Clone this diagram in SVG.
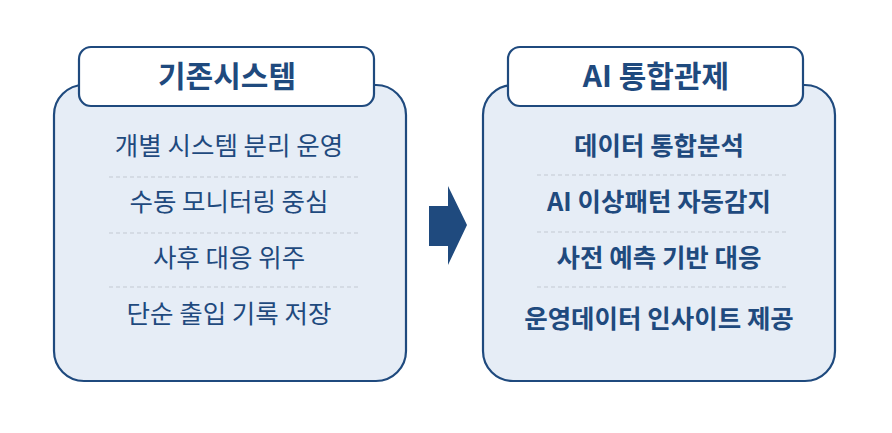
<svg xmlns="http://www.w3.org/2000/svg" width="892" height="433" viewBox="0 0 892 433">
<style>
.panel{fill:#e6edf6;stroke:#1f4a7e;stroke-width:2.2}
.tbox{fill:#ffffff;stroke:#1f4a7e;stroke-width:2.2}
.title{font-family:"Noto Sans CJK KR","Noto Sans",sans-serif;font-weight:700;font-size:30px;fill:#1f4a7e;text-anchor:middle}
.item{font-family:"Noto Sans CJK KR","Noto Sans",sans-serif;font-size:25.5px;fill:#1f4a7e;text-anchor:middle}
.itemb{font-family:"Noto Sans CJK KR","Noto Sans",sans-serif;font-weight:700;font-size:25.5px;fill:#1f4a7e;text-anchor:middle}
.dash{stroke:#c3c9d2;stroke-width:1;stroke-dasharray:4 3}
</style>
<rect width="892" height="433" fill="#ffffff"/>
<g id="left">
<rect class="panel" x="54" y="85" width="352" height="296" rx="30"/>
<rect class="tbox" x="79" y="47" width="295" height="59" rx="12"/>
<text class="title" x="227" y="87">기존시스템</text>
<text class="item" x="229" y="155">개별 시스템 분리 운영</text>
<line class="dash" x1="109" y1="177" x2="358" y2="177"/>
<text class="item" x="229" y="211">수동 모니터링 중심</text>
<line class="dash" x1="109" y1="233" x2="358" y2="233"/>
<text class="item" x="229" y="267">사후 대응 위주</text>
<line class="dash" x1="109" y1="287" x2="358" y2="287"/>
<text class="item" x="229" y="323">단순 출입 기록 저장</text>
</g>
<g id="right">
<rect class="panel" x="483" y="85" width="352" height="296" rx="30"/>
<rect class="tbox" x="508" y="47" width="295" height="59" rx="12"/>
<text class="title" x="656" y="87">AI 통합관제</text>
<text class="itemb" x="659" y="155">데이터 통합분석</text>
<line class="dash" x1="537" y1="175" x2="787" y2="175"/>
<text class="itemb" x="659" y="211">AI 이상패턴 자동감지</text>
<line class="dash" x1="537" y1="232" x2="787" y2="232"/>
<text class="itemb" x="659" y="267">사전 예측 기반 대응</text>
<line class="dash" x1="537" y1="287" x2="787" y2="287"/>
<text class="itemb" x="659" y="328">운영데이터 인사이트 제공</text>
</g>
<g id="connectors">
<polygon points="429,206 448,206 448,186 467,225 448,265 448,246 429,246" fill="#1f4a7e"/>
</g>
</svg>
